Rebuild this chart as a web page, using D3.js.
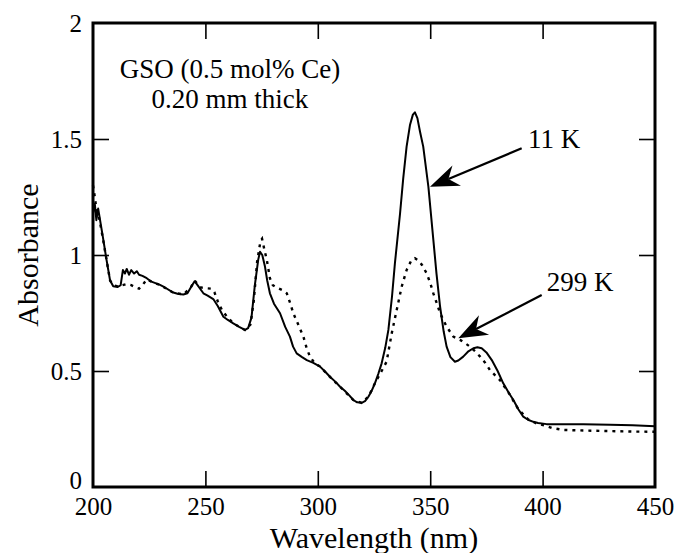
<!DOCTYPE html>
<html>
<head>
<meta charset="utf-8">
<script src="https://cdn.jsdelivr.net/npm/d3@7/dist/d3.min.js"></script>
<style>
  body { margin: 0; background: #fff; }
  svg { display: block; font-family: "Liberation Serif", "Times New Roman", serif; }
</style>
</head>
<body>
<svg id="chart" width="682" height="553"></svg>
<script>
// Absorbance spectra
const wl11 = [200, 200.8, 201.5, 202.3, 203.5, 204.6, 206, 207.6, 209, 211, 212.3, 213.3, 214.2, 215, 216, 217, 218.3, 219.5, 220.5, 222, 223.9, 226, 229.8, 232, 235.7, 238, 240.2, 242, 243.5, 245.2, 246.5, 249.1, 251, 253.5, 255.5, 258, 260, 262.4, 265, 267.6, 269, 270.5, 272, 273.5, 274.3, 275.3, 276.5, 277.5, 278.7, 280.5, 283.2, 285.5, 287.6, 289, 290.6, 293, 295.1, 298, 301, 303.2, 305.4, 308, 309.9, 312, 314, 315.8, 317.5, 319.5, 321, 322.5, 324, 325.4, 327, 328.4, 330, 331.4, 333, 334.3, 336.6, 338, 339.5, 341, 342.3, 343.2, 344.3, 345.5, 346.9, 349.2, 351.4, 352.8, 354.4, 356, 357.3, 359, 361, 362.5, 364.7, 367, 369.2, 371, 372.9, 375, 377.4, 380, 382.5, 385, 387, 389.2, 391.4, 393.5, 395.9, 398, 401.8, 410, 418.1, 430, 440, 450];
const abs11 = [1.18, 1.22, 1.15, 1.2, 1.13, 1.065, 0.98, 0.89, 0.865, 0.862, 0.87, 0.935, 0.92, 0.94, 0.915, 0.935, 0.92, 0.93, 0.915, 0.91, 0.9, 0.885, 0.871, 0.86, 0.838, 0.832, 0.83, 0.835, 0.86, 0.887, 0.87, 0.835, 0.825, 0.81, 0.78, 0.734, 0.72, 0.705, 0.69, 0.677, 0.685, 0.73, 0.87, 0.98, 1.014, 1.0, 0.95, 0.89, 0.835, 0.79, 0.749, 0.69, 0.648, 0.605, 0.576, 0.56, 0.547, 0.535, 0.519, 0.498, 0.475, 0.452, 0.432, 0.415, 0.395, 0.375, 0.365, 0.363, 0.37, 0.389, 0.415, 0.447, 0.49, 0.533, 0.6, 0.677, 0.82, 0.964, 1.18, 1.33, 1.467, 1.56, 1.605, 1.615, 1.59, 1.53, 1.467, 1.294, 1.065, 0.92, 0.777, 0.67, 0.605, 0.56, 0.54, 0.545, 0.562, 0.585, 0.598, 0.602, 0.598, 0.58, 0.547, 0.5, 0.447, 0.405, 0.375, 0.335, 0.303, 0.29, 0.281, 0.276, 0.271, 0.27, 0.271, 0.268, 0.266, 0.262];

const wl299 = [200, 200.8, 201.5, 202.5, 203.5, 204.6, 206, 207.6, 209, 211, 213, 215, 217, 219, 220.5, 222, 223.9, 226, 229.8, 235.7, 240.2, 243.5, 245.2, 246.5, 248, 250, 252.5, 254, 255.5, 257.5, 259.5, 262.4, 267.6, 270, 271.5, 273, 274.5, 275.2, 276.3, 277.3, 278.7, 280, 281.7, 284, 286.2, 287.8, 289.1, 291.3, 293.6, 295, 296.5, 298.5, 301, 305.4, 309.9, 315.8, 319.5, 322.5, 325.4, 328.4, 330.6, 332.9, 335.1, 337.3, 339.5, 341.5, 343.2, 345, 346.5, 348.4, 350, 351.4, 353, 354.4, 357.3, 360.3, 363.3, 365.5, 367.7, 370, 372.2, 374.5, 376.6, 379, 381, 385, 389.2, 393.5, 397, 401, 404, 409.2, 420, 430, 440, 450];
const abs299 = [1.3, 1.25, 1.2, 1.17, 1.12, 1.06, 0.98, 0.89, 0.87, 0.865, 0.87, 0.875, 0.87, 0.86, 0.855, 0.87, 0.895, 0.885, 0.871, 0.838, 0.83, 0.86, 0.89, 0.875, 0.86, 0.857, 0.855, 0.84, 0.8, 0.76, 0.736, 0.705, 0.677, 0.7, 0.8, 0.97, 1.06, 1.07, 1.02, 0.98, 0.9, 0.87, 0.86, 0.85, 0.835, 0.79, 0.749, 0.7, 0.648, 0.6, 0.562, 0.535, 0.519, 0.475, 0.432, 0.375, 0.363, 0.389, 0.447, 0.5, 0.54, 0.663, 0.763, 0.863, 0.935, 0.975, 0.986, 0.975, 0.955, 0.921, 0.88, 0.835, 0.79, 0.749, 0.691, 0.648, 0.634, 0.62, 0.605, 0.585, 0.562, 0.535, 0.504, 0.48, 0.461, 0.405, 0.335, 0.292, 0.275, 0.265, 0.255, 0.246, 0.243, 0.241, 0.239, 0.238];

const xTicks = [200, 250, 300, 350, 400, 450];
const yTicks = [0, 0.5, 1, 1.5, 2];
const xInnerTicks = [250, 300, 350, 400];
const yInnerTicks = [0.5, 1, 1.5];

const svg = d3.select('#chart');
const margin = { top: 23, right: 27, bottom: 66, left: 93 };
const width = 682 - margin.left - margin.right;
const height = 553 - margin.top - margin.bottom;

const chart = svg.append('g')
  .attr('transform', `translate(${margin.left},${margin.top})`);

const x = d3.scaleLinear().domain([200, 450]).range([0, width]);
const y = d3.scaleLinear().domain([0, 2]).range([height, 0]);

// Inner ticks on all four sides
const tickLen = 16;
[
  { axis: d3.axisBottom(x).tickValues(xInnerTicks), t: `translate(0,${height})` },
  { axis: d3.axisTop(x).tickValues(xInnerTicks), t: 'translate(0,0)' },
  { axis: d3.axisLeft(y).tickValues(yInnerTicks), t: 'translate(0,0)' },
  { axis: d3.axisRight(y).tickValues(yInnerTicks), t: `translate(${width},0)` },
].forEach(d => {
  const g = chart.append('g')
    .attr('transform', d.t)
    .call(d.axis.tickSize(-tickLen).tickFormat(''));
  g.select('.domain').remove();
  g.selectAll('line').attr('stroke', '#000').attr('stroke-width', 1.6);
});

// Tick labels
const xLab = chart.append('g')
  .attr('transform', `translate(0,${height})`)
  .call(d3.axisBottom(x).tickValues(xTicks).tickSize(0).tickPadding(10).tickFormat(d3.format('d')));
xLab.select('.domain').remove();
xLab.selectAll('text')
  .attr('font-family', '"Liberation Serif", serif')
  .attr('font-size', 25)
  .attr('fill', '#000');

const yLab = chart.append('g')
  .call(d3.axisLeft(y).tickValues(yTicks).tickSize(0).tickPadding(11).tickFormat(d => String(d)));
yLab.select('.domain').remove();
yLab.selectAll('text')
  .attr('font-family', '"Liberation Serif", serif')
  .attr('font-size', 25)
  .attr('fill', '#000');
// the "0" sits just above the "200" in the corner
yLab.selectAll('text').filter(d => d === 0).attr('dy', '0.05em');

// Curves
const line = d3.line()
  .x(d => x(d[0]))
  .y(d => y(d[1]))
  .curve(d3.curveLinear);

chart.append('path')
  .datum(wl299.map((w, i) => [w, abs299[i]]))
  .attr('d', line)
  .attr('fill', 'none')
  .attr('stroke', '#000')
  .attr('stroke-width', 2.4)
  .attr('stroke-dasharray', '3,5');

chart.append('path')
  .datum(wl11.map((w, i) => [w, abs11[i]]))
  .attr('d', line)
  .attr('fill', 'none')
  .attr('stroke', '#000')
  .attr('stroke-width', 2)
  .attr('stroke-linejoin', 'round');

// Frame
chart.append('rect')
  .attr('width', width)
  .attr('height', height)
  .attr('fill', 'none')
  .attr('stroke', '#000')
  .attr('stroke-width', 3);

// Sample note
const note = chart.append('text')
  .attr('text-anchor', 'middle')
  .attr('font-size', 27)
  .attr('fill', '#000');
note.append('tspan').attr('x', x(260.9)).attr('y', y(1.763)).text('GSO (0.5 mol% Ce)');
note.append('tspan').attr('x', x(260.9)).attr('y', y(1.634)).text('0.20 mm thick');

// Arrows with labels
function arrow(tail, tip, label, labelPos) {
  const x0 = x(tail[0]), y0 = y(tail[1]);
  const x1 = x(tip[0]), y1 = y(tip[1]);
  const len = Math.hypot(x0 - x1, y0 - y1);
  const ux = (x0 - x1) / len, uy = (y0 - y1) / len;
  const px = -uy, py = ux;
  const headLen = 29, notch = 20, half = 11;

  chart.append('line')
    .attr('x1', x0).attr('y1', y0)
    .attr('x2', x1 + ux * notch).attr('y2', y1 + uy * notch)
    .attr('stroke', '#000')
    .attr('stroke-width', 2.2);

  const head = [
    [x1, y1],
    [x1 + ux * headLen + px * half, y1 + uy * headLen + py * half],
    [x1 + ux * notch, y1 + uy * notch],
    [x1 + ux * headLen - px * half, y1 + uy * headLen - py * half],
  ];
  chart.append('path')
    .attr('d', 'M' + head.map(p => p.join(',')).join('L') + 'Z')
    .attr('fill', '#000');

  chart.append('text')
    .attr('x', x(labelPos[0]))
    .attr('y', y(labelPos[1]))
    .attr('font-size', 27)
    .attr('fill', '#000')
    .text(label);
}

arrow([390.7, 1.46], [349.9, 1.294], '11 K', [393.5, 1.461]);
arrow([399.6, 0.828], [362.5, 0.641], '299 K', [401.8, 0.846]);

// Axis titles
svg.append('text')
  .attr('x', margin.left + width / 2)
  .attr('y', 548)
  .attr('text-anchor', 'middle')
  .attr('font-size', 30)
  .attr('fill', '#000')
  .text('Wavelength (nm)');

svg.append('text')
  .attr('transform', `translate(38,${margin.top + height / 2}) rotate(-90)`)
  .attr('text-anchor', 'middle')
  .attr('font-size', 30)
  .attr('fill', '#000')
  .text('Absorbance');
</script>
</body>
</html>
